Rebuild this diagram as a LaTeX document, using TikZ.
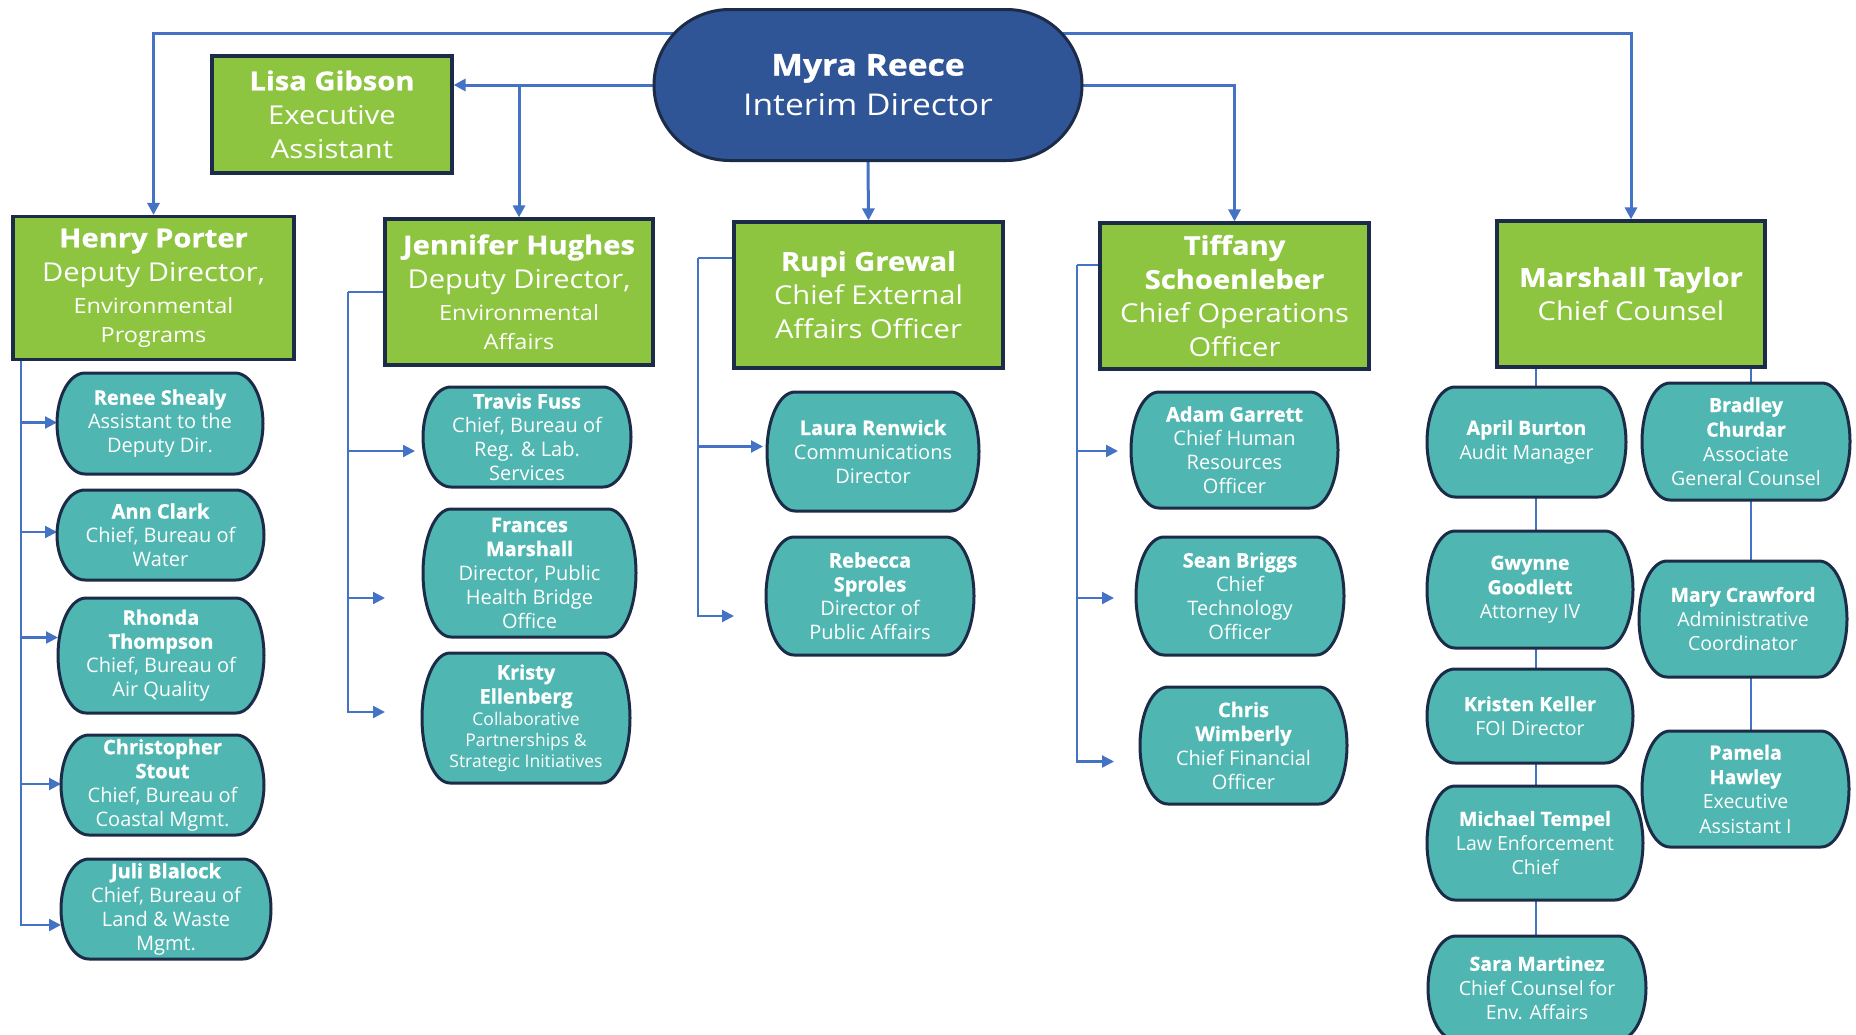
\documentclass[tikz,border=0pt]{standalone}
\usepackage{fontspec}
\setmainfont{Open Sans}[BoldFeatures={FakeBold=1}]
\newfontfamily\widefont{Open Sans}[FakeStretch=1.12,BoldFeatures={FakeBold=1}]
\usetikzlibrary{arrows.meta,shapes.misc}

\definecolor{leaf}{HTML}{8DC440}
\definecolor{sea}{HTML}{4FB6B1}
\definecolor{royal}{HTML}{2F5597}
\definecolor{ink}{HTML}{1C2B47}
\definecolor{linkblue}{HTML}{4472C4}

\pgfdeclarelayer{back}
\pgfsetlayers{back,main}

% box with half-ellipse ends
\newcommand{\pillrx}{28pt}
\makeatletter
\pgfdeclareshape{pill}{%
  \inheritsavedanchors[from=rectangle]%
  \inheritanchorborder[from=rectangle]%
  \inheritanchor[from=rectangle]{center}%
  \inheritanchor[from=rectangle]{north}%
  \inheritanchor[from=rectangle]{south}%
  \inheritanchor[from=rectangle]{east}%
  \inheritanchor[from=rectangle]{west}%
  \inheritanchor[from=rectangle]{north east}%
  \inheritanchor[from=rectangle]{north west}%
  \inheritanchor[from=rectangle]{south east}%
  \inheritanchor[from=rectangle]{south west}%
  \backgroundpath{%
    \southwest \pgf@xa=\pgf@x \pgf@ya=\pgf@y
    \northeast \pgf@xb=\pgf@x \pgf@yb=\pgf@y
    \pgf@yc=.5\pgf@yb \advance\pgf@yc by -.5\pgf@ya
    \pgf@xc=\pillrx\relax
    \edef\pill@l{\the\dimexpr\pgf@xa+\pgf@xc\relax}%
    \edef\pill@r{\the\dimexpr\pgf@xb-\pgf@xc\relax}%
    \edef\pill@t{\the\pgf@yb}%
    \edef\pill@b{\the\pgf@ya}%
    \edef\pill@rx{\the\pgf@xc}%
    \edef\pill@ry{\the\pgf@yc}%
    \pgfpathmoveto{\pgfqpoint{\pill@l}{\pill@t}}%
    \pgfpathlineto{\pgfqpoint{\pill@r}{\pill@t}}%
    \pgfpatharcaxes{90}{-90}{\pgfqpoint{\pill@rx}{0pt}}{\pgfqpoint{0pt}{\pill@ry}}%
    \pgfpathlineto{\pgfqpoint{\pill@l}{\pill@b}}%
    \pgfpatharcaxes{270}{90}{\pgfqpoint{\pill@rx}{0pt}}{\pgfqpoint{0pt}{\pill@ry}}%
    \pgfpathclose
  }%
}
\makeatother

\newcommand{\nm}[1]{\textbf{#1}}
\newcommand{\subline}{\fontsize{21}{28}\selectfont}
\newcommand{\fineline}{\fontsize{17.5}{20}\selectfont}

\begin{document}
\begin{tikzpicture}[x=1pt,y=-1pt,
  sz/.style 2 args={minimum width=#1pt,minimum height=#2pt},
  boss/.style={rounded rectangle,draw=ink,fill=royal,line width=3pt,text=white,
    align=center,inner sep=0pt,font=\widefont\fontsize{30}{40}\selectfont},
  greenbox/.style={rectangle,draw=ink,fill=leaf,line width=3.2pt,text=white,
    align=center,inner sep=0pt,font=\widefont\fontsize{26}{34}\selectfont},
  tealbox/.style={pill,draw=ink,fill=sea,line width=3pt,text=white,
    align=center,inner sep=0pt,outer sep=0pt,font=\fontsize{20}{24}\selectfont},
  widebox/.style={tealbox,font=\fontsize{19.5}{24.5}\selectfont},
  wire/.style={draw=linkblue,line width=3pt},
  branch/.style={draw=linkblue,line width=2.2pt},
  rail/.style={draw=linkblue,line width=2.6pt},
  arr/.style={-{Triangle[length=12pt,width=12pt]}}]

  \useasboundingbox (0,0) rectangle (1856,1034);
  \clip (0,0) rectangle (1856,1034);

  % top level
  \node[boss,sz={428}{151}] (dir) at (868,85) {\nm{Myra Reece}\\Interim Director};
  \node[greenbox,sz={240}{117}] (lisa) at (332,114.5) {\nm{Lisa Gibson}\\Executive\\Assistant};
  \node[greenbox,sz={281}{143}] (henry) at (153.5,288)
    {\nm{Henry Porter}\\Deputy Director,\\[-2pt]\subline Environmental\\[-5pt]\subline Programs};
  \node[greenbox,sz={268}{146}] (jennifer) at (519,292)
    {\nm{Jennifer Hughes}\\Deputy Director,\\[-2pt]\subline Environmental\\[-5pt]\subline Affairs};
  \node[greenbox,sz={269}{146}] (rupi) at (868.5,295) {\nm{Rupi Grewal}\\Chief External\\Affairs Officer};
  \node[greenbox,sz={269}{146}] (tiffany) at (1234.5,296)
    {\nm{Tiffany}\\\nm{Schoenleber}\\Chief Operations\\Officer};
  \node[greenbox,sz={268}{146}] (marshall) at (1631,294) {\nm{Marshall Taylor}\\Chief Counsel};

  % environmental programs
  \node[tealbox,sz={206}{101}] (renee) at (160,423.5) {\nm{Renee Shealy}\\Assistant to the\\Deputy Dir.};
  \node[tealbox,sz={207}{90}] (ann) at (160.5,535) {\nm{Ann Clark}\\Chief, Bureau of\\Water};
  \node[tealbox,sz={206}{115}] (rhonda) at (161,655.5) {\nm{Rhonda}\\\nm{Thompson}\\Chief, Bureau of\\Air Quality};
  \node[tealbox,sz={203}{100}] (christopher) at (162.5,785) {\nm{Christopher}\\\nm{Stout}\\Chief, Bureau of\\Coastal Mgmt.};
  \node[tealbox,sz={210}{100}] (juli) at (166,909) {\nm{Juli Blalock}\\Chief, Bureau of\\Land \& Waste\\Mgmt.};

  % environmental affairs
  \node[tealbox,sz={208}{100}] (travis) at (527,437) {\nm{Travis Fuss}\\Chief, Bureau of\\Reg. \& Lab.\\Services};
  \node[tealbox,sz={213}{128}] (frances) at (529.5,573) {\nm{Frances}\\\nm{Marshall}\\Director, Public\\Health Bridge\\Office};
  \node[tealbox,sz={208}{130}] (kristy) at (526,718)
    {\nm{Kristy}\\\nm{Ellenberg}\\[-2pt]\fineline Collaborative\\[-3pt]\fineline Partnerships \&\\[-3pt]\fineline Strategic Initiatives};

  % external affairs
  \node[tealbox,sz={212}{119}] (laura) at (873,451.5) {\nm{Laura Renwick}\\Communications\\Director};
  \node[tealbox,sz={208}{118}] (rebecca) at (870,596) {\nm{Rebecca}\\\nm{Sproles}\\Director of\\Public Affairs};

  % operations
  \node[tealbox,sz={207}{116}] (adam) at (1234.5,450) {\nm{Adam Garrett}\\Chief Human\\Resources\\Officer};
  \node[tealbox,sz={208}{118}] (sean) at (1240,596) {\nm{Sean Briggs}\\Chief\\Technology\\Officer};
  \node[tealbox,sz={207}{117}] (chris) at (1243.5,745.5) {\nm{Chris}\\\nm{Wimberly}\\Chief Financial\\Officer};

  % counsel
  \node[widebox,sz={199}{110}] (april) at (1526.5,442) {\nm{April Burton}\\Audit Manager};
  \node[widebox,sz={206}{117}] (gwynne) at (1530,589.5) {\nm{Gwynne}\\\nm{Goodlett}\\Attorney IV};
  \node[widebox,sz={206}{94}] (kristen) at (1530,716) {\nm{Kristen Keller}\\FOI Director};
  \node[widebox,sz={216}{114}] (michael) at (1535,843) {\nm{Michael Tempel}\\Law Enforcement\\Chief};
  \node[widebox,sz={218}{104}] (sara) at (1537,988) {\nm{Sara Martinez}\\Chief Counsel for\\Env. Affairs};
  \node[widebox,sz={208}{117}] (bradley) at (1746,441.5) {\nm{Bradley}\\\nm{Churdar}\\Associate\\General Counsel};
  \node[widebox,sz={208}{116}] (mary) at (1743,619) {\nm{Mary Crawford}\\Administrative\\Coordinator};
  \node[widebox,sz={207}{116}] (pamela) at (1745.5,789) {\nm{Pamela}\\\nm{Hawley}\\Executive\\Assistant I};

  \begin{pgfonlayer}{back}
    \coordinate (top) at (868,33);
    \draw[wire,arr] (top) -| (henry.north);
    \draw[wire,arr] (top) -| (marshall.north);
    \draw[wire,arr] (dir.center) -- (lisa.east |- dir.center);
    \draw[wire,arr] (jennifer.north |- dir.center) -- (jennifer.north);
    \draw[wire,arr] (dir.center) -| (tiffany.north);
    \draw[wire,arr] (dir.south) -- (rupi.north);

    \coordinate (hv) at (21,358);
    \foreach \n/\dy in {renee/1,ann/3,rhonda/18,christopher/1,juli/-16}
      \draw[branch,arr] (hv) |- ([yshift=\dy pt]\n.west);

    \coordinate (jv) at (348,292);
    \draw[branch] (jennifer.west) -- (jv);
    \foreach \n/\dy/\gap in {travis/-14/8,frances/-25/38,kristy/6/37}
      \draw[branch,arr,shorten >=\gap pt] (jv) |- ([yshift=\dy pt]\n.west);

    \coordinate (rv) at (698,258);
    \draw[branch] (rupi.west |- rv) -- (rv);
    \foreach \n/\dy/\gap in {laura/5/4,rebecca/-20/32}
      \draw[branch,arr,shorten >=\gap pt] (rv) |- ([yshift=\dy pt]\n.west);

    \coordinate (tv) at (1077,265);
    \draw[branch] (tiffany.west |- tv) -- (tv);
    \foreach \n/\dy/\gap in {adam/-1/13,sean/-2/22,chris/-16/26}
      \draw[branch,arr,shorten >=\gap pt] (tv) |- ([yshift=\dy pt]\n.west);

    \coordinate (ml) at (1536,0);
    \coordinate (mr) at (1751,0);
    \foreach \a/\b in {marshall/april,april/gwynne,gwynne/kristen,kristen/michael,michael/sara}
      \draw[rail] (\a.south -| ml) -- (\b.north -| ml);
    \foreach \a/\b in {marshall/bradley,bradley/mary,mary/pamela}
      \draw[rail] (\a.south -| mr) -- (\b.north -| mr);
  \end{pgfonlayer}
\end{tikzpicture}
\end{document}
